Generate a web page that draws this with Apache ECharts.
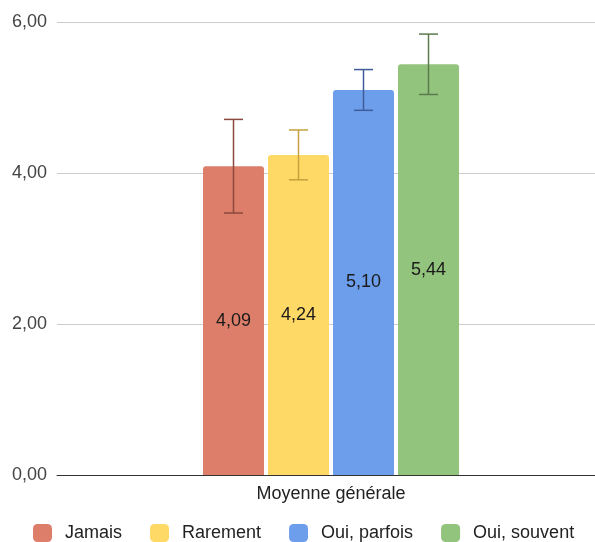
<!DOCTYPE html>
<html>
<head>
<meta charset="utf-8">
<script src="https://cdn.jsdelivr.net/npm/echarts@6/dist/echarts.min.js"></script>
<style>html,body{margin:0;padding:0;background:#fff}#c{width:595px;height:542px}</style>
</head>
<body>
<div id="c"></div>
<script>
var categories = ['Moyenne générale'];
var seriesNames = ['Jamais', 'Rarement', 'Oui, parfois', 'Oui, souvent'];
var means = [4.09, 4.24, 5.10, 5.44];
var errors = [0.62, 0.33, 0.27, 0.40];
var yTicks = [0, 2, 4, 6];
var barColors = ['#DD7E6B', '#FFD966', '#6D9EEB', '#93C47D'];
var errColors = ['#8A4A3E', '#C4A23C', '#3E5C99', '#5C7A4E'];

var FONT = "'Liberation Sans', Arial, sans-serif";
var chart = echarts.init(document.getElementById('c'), null, {renderer: 'canvas'});
var BAR_W = 61, BAR_GAP = 4;
var fmt = function (v) { return v.toFixed(2).replace('.', ','); };

var series = [];
seriesNames.forEach(function (name, i) {
  series.push({
    name: name,
    type: 'bar',
    xAxisIndex: 1, yAxisIndex: 1,
    data: [means[i]],
    barWidth: BAR_W,
    barGap: (BAR_GAP / BAR_W * 100) + '%',
    itemStyle: {color: barColors[i], borderRadius: [3, 3, 0, 0]},
    label: {
      show: true, position: 'inside', color: '#1a1a1a',
      fontFamily: FONT, fontSize: 18,
      formatter: function (p) { return fmt(p.value); }
    },
    z: 2
  });
});
seriesNames.forEach(function (name, i) {
  var off = (i - (seriesNames.length - 1) / 2) * (BAR_W + BAR_GAP);
  series.push({
    type: 'custom',
    name: name + '_err',
    xAxisIndex: 1, yAxisIndex: 1,
    data: [[0, means[i] - errors[i], means[i] + errors[i]]],
    z: 5,
    silent: true,
    renderItem: function (params, api) {
      var lo = api.coord([api.value(0), api.value(1)]);
      var hi = api.coord([api.value(0), api.value(2)]);
      var x = lo[0] + off;
      var hw = 9.5;
      var st = {stroke: errColors[i], lineWidth: 1.5};
      return {
        type: 'group',
        children: [
          {type: 'line', shape: {x1: x, y1: hi[1], x2: x, y2: lo[1]}, style: st},
          {type: 'line', shape: {x1: x - hw, y1: hi[1], x2: x + hw, y2: hi[1]}, style: st},
          {type: 'line', shape: {x1: x - hw, y1: lo[1], x2: x + hw, y2: lo[1]}, style: st}
        ]
      };
    }
  });
});

var yMin = yTicks[0], yMax = yTicks[yTicks.length - 1];
chart.setOption({
  animation: false,
  textStyle: {fontFamily: FONT},
  grid: [
    {left: 57, right: 0, top: 22, bottom: 67, containLabel: false},
    {left: 67, right: 0, top: 22, bottom: 67, containLabel: false}
  ],
  legend: {
    data: seriesNames,
    left: 28, top: 519,
    itemWidth: 19, itemHeight: 18, itemGap: 28,
    icon: 'roundRect',
    textStyle: {fontFamily: FONT, fontSize: 18, color: '#222', padding: [0, 0, 0, 8]}
  },
  xAxis: [
    {
      type: 'category', gridIndex: 0, data: categories,
      axisLine: {lineStyle: {color: '#333', width: 1}},
      axisTick: {show: false}, axisLabel: {show: false}, z: 3
    },
    {
      type: 'category', gridIndex: 1, data: categories,
      axisLine: {show: false}, axisTick: {show: false},
      axisLabel: {fontFamily: FONT, fontSize: 18, color: '#222', margin: 10}
    }
  ],
  yAxis: [
    {
      type: 'value', gridIndex: 0, min: yMin, max: yMax, interval: 2,
      axisLine: {show: false}, axisTick: {show: false},
      splitLine: {lineStyle: {color: '#cccccc', width: 1}},
      axisLabel: {fontFamily: FONT, fontSize: 18, color: '#444', margin: 10,
        formatter: function (v) { return fmt(v); }}
    },
    {
      type: 'value', gridIndex: 1, min: yMin, max: yMax, interval: 2,
      axisLine: {show: false}, axisTick: {show: false},
      splitLine: {show: false}, axisLabel: {show: false}
    }
  ],
  series: series
});
</script>
</body>
</html>
